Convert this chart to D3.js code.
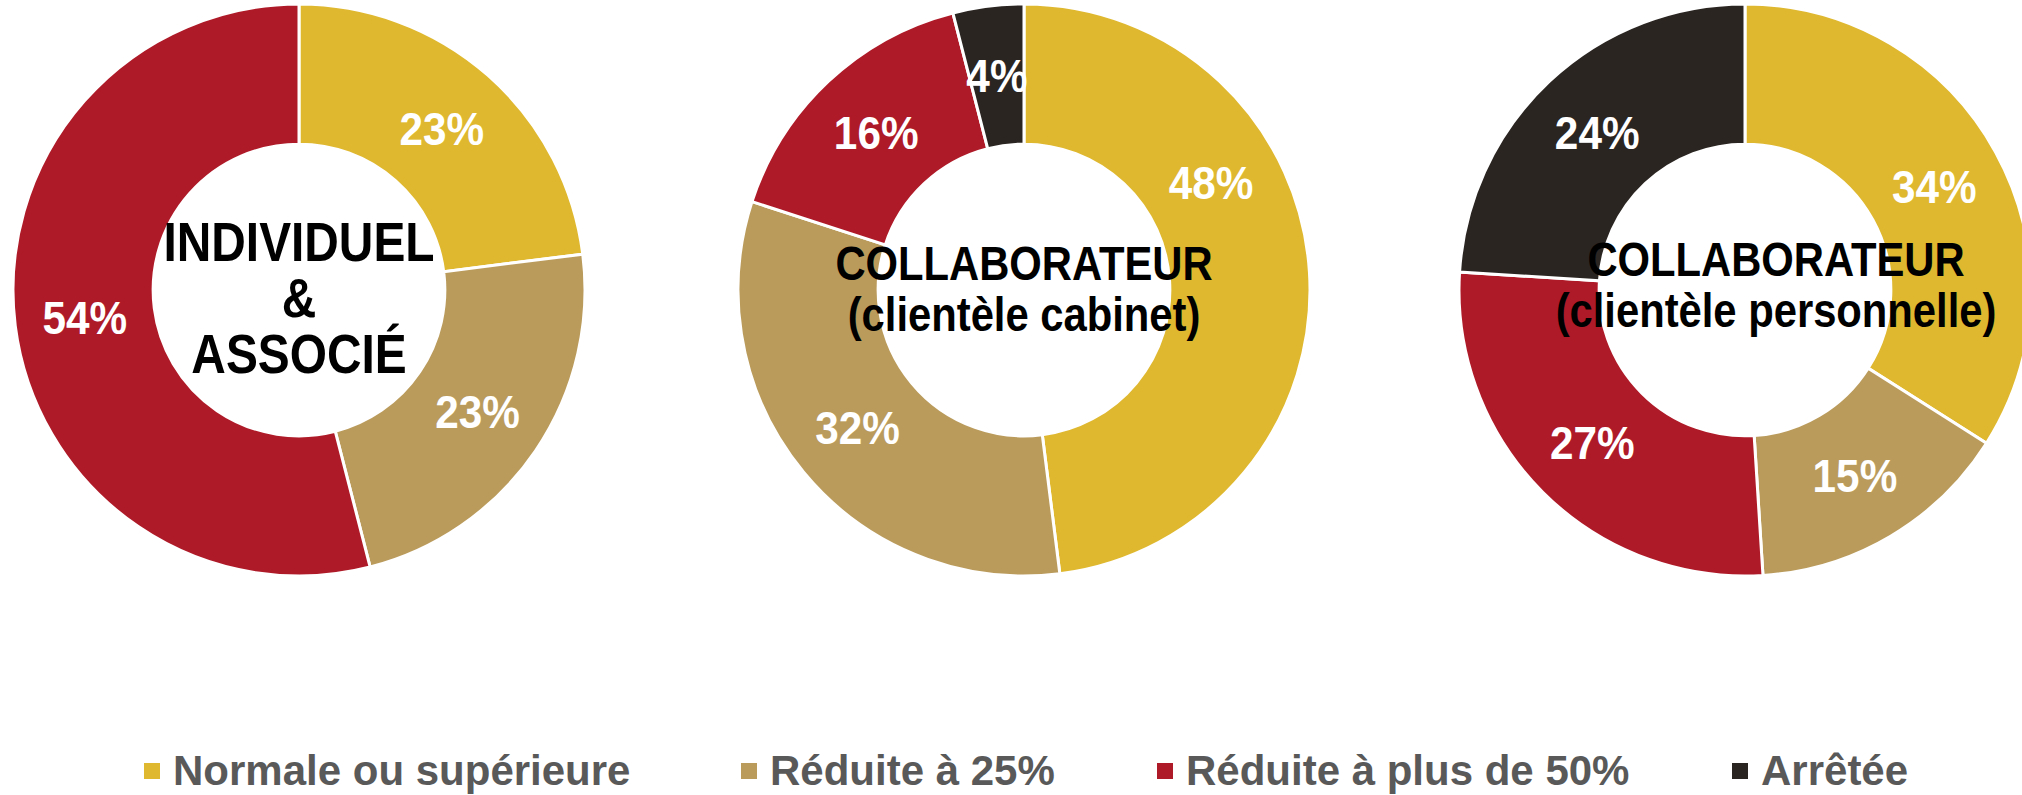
<!DOCTYPE html>
<html>
<head>
<meta charset="utf-8">
<script src="https://cdn.jsdelivr.net/npm/d3@7"></script>
<style>
  body { margin: 0; background: #fff; }
  text { font-family: "Liberation Sans", Arial, sans-serif; font-weight: bold; }
</style>
</head>
<body>
<svg width="2022" height="795"></svg>
<script>
// categories + colours
const categories = ['Normale ou supérieure', 'Réduite à 25%', 'Réduite à plus de 50%', 'Arrêtée'];
const colors = ['#DFB82F', '#BA9B5C', '#AF1A28', '#2B2522'];

// one series per doughnut (percent)
const individuel = [23, 23, 54, 0];
const collabCabinet = [48, 32, 16, 4];
const collabPerso = [34, 15, 27, 24];

const titles = [
  ['INDIVIDUEL', '&', 'ASSOCIÉ'],
  ['COLLABORATEUR', '(clientèle cabinet)'],
  ['COLLABORATEUR', '(clientèle personnelle)']
];

const svg = d3.select('svg');
const width = +svg.attr('width');
const height = +svg.attr('height');

const squeeze = 0.87; // titles look horizontally condensed
const outerR = 286;
const innerR = outerR * 0.51;
const cy = 290;

// labelAngle: a few labels are pushed off the slice middle (degrees from top)
const charts = [
  { values: individuel, cx: 299, title: titles[0], titleSize: 55, lineH: 56, titleY: 297, titleDx: 0, labelAngle: {} },
  { values: collabCabinet, cx: 1024, title: titles[1], titleSize: 48, lineH: 51, titleY: 288, titleDx: 0, labelAngle: { 0: 60 } },
  { values: collabPerso, cx: 1745, title: titles[2], titleSize: 48, lineH: 51, titleY: 284, titleDx: 31, labelAngle: {} }
];

const pie = d3.pie().sort(null).value(d => d.v);
const arc = d3.arc().innerRadius(innerR).outerRadius(outerR);
const midR = (innerR + outerR) / 2;
const labelArc = d3.arc().innerRadius(midR).outerRadius(midR);
const color = d3.scaleOrdinal().domain(categories).range(colors);

charts.forEach(c => {
  const g = svg.append('g').attr('transform', `translate(${c.cx},${cy})`);
  const data = pie(c.values.map((v, i) => ({ v, cat: categories[i], i })));
  const shown = data.filter(d => d.data.v > 0);

  g.selectAll('path').data(shown)
    .enter().append('path')
    .attr('d', arc)
    .attr('fill', d => color(d.data.cat))
    .attr('stroke', '#fff')
    .attr('stroke-width', 3);

  g.selectAll('text.lbl').data(shown)
    .enter().append('text')
    .attr('class', 'lbl')
    .attr('transform', d => {
      let x, y;
      const a = c.labelAngle[d.data.i];
      if (a != null) {
        const rad = a * Math.PI / 180;
        x = Math.sin(rad) * midR;
        y = -Math.cos(rad) * midR;
      } else {
        [x, y] = labelArc.centroid(d);
      }
      return `translate(${x},${y}) scale(0.92,1)`;
    })
    .attr('text-anchor', 'middle')
    .attr('dy', '0.36em')
    .attr('fill', '#fff')
    .attr('font-size', 46)
    .text(d => d.data.v + '%');

  const n = c.title.length;
  c.title.forEach((t, i) => {
    const y = c.titleY - cy + (i - (n - 1) / 2) * c.lineH;
    g.append('text')
      .attr('transform', `translate(${c.titleDx},${y}) scale(${squeeze},1)`)
      .attr('text-anchor', 'middle')
      .attr('dy', '0.36em')
      .attr('fill', '#000')
      .attr('font-size', c.titleSize)
      .text(t);
  });
});

// legend
const legendX = [144, 741, 1157, 1732];
const legend = svg.append('g');
categories.forEach((cat, i) => {
  const item = legend.append('g').attr('transform', `translate(${legendX[i]},0)`);
  item.append('rect')
    .attr('x', 0).attr('y', 763)
    .attr('width', 16).attr('height', 16)
    .attr('fill', color(cat));
  item.append('text')
    .attr('transform', `translate(29,785)`)
    .attr('fill', '#595959')
    .attr('font-size', 42)
    .text(cat);
});
</script>
</body>
</html>
